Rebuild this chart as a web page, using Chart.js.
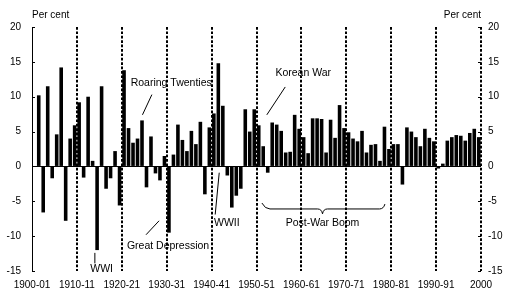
<!DOCTYPE html>
<html>
<head>
<meta charset="utf-8">
<script src="https://cdn.jsdelivr.net/npm/chart.js@4.4.1/dist/chart.umd.min.js"></script>
<style>
  html, body { margin: 0; padding: 0; background: #fff; }
</style>
</head>
<body>
<canvas id="growthChart" width="515" height="303"></canvas>
<script>
// financial years 1900-01 .. 1999-00
const firstYear = 1900;
const years = [];
for (let y = firstYear; y < firstYear + 100; y++) {
  years.push(y + '-' + String((y + 1) % 100).padStart(2, '0'));
}

// annual growth, per cent (no figure for 1900-01)
const growth = [
  null, 10.2, -6.6, 11.5, -1.7, 4.6, 14.2, -7.8, 4.0, 5.9,
  9.2, -1.6, 10.0, 0.8, -12.0, 11.5, -3.2, -1.7, 2.2, -5.6,
  13.8, 5.5, 3.4, 4.0, 6.6, -3.0, 4.3, -1.0, -2.0, 1.5,
  -9.5, 1.7, 6.0, 3.8, 2.2, 5.1, 3.2, 6.4, -4.0, 5.6,
  7.6, 14.8, 8.7, -1.3, -5.9, -4.2, -3.2, 8.2, 5.0, 8.2,
  5.9, 2.9, -0.9, 6.3, 6.0, 5.1, 2.0, 2.1, 7.4, 5.4,
  4.2, 1.9, 6.9, 6.9, 6.8, 2.0, 6.7, 4.1, 8.8, 5.5,
  4.9, 4.0, 3.6, 5.1, 2.0, 3.1, 3.2, 0.8, 5.7, 2.5,
  3.2, 3.2, -2.6, 5.6, 5.0, 4.2, 2.9, 5.4, 4.1, 3.6,
  -0.3, 0.4, 3.7, 4.2, 4.5, 4.4, 3.7, 4.8, 5.4, 4.2
];

const xTickLabels = ['1900-01', '1910-11', '1920-21', '1930-31', '1940-41',
  '1950-51', '1960-61', '1970-71', '1980-81', '1990-91', '2000'];

// text notes, in axis units (x = years from 1900, y = per cent)
const notes = [
  { text: 'Roaring Twenties', x: 31, y: 11.9, line: [26.7, 10.3, 24.6, 7.4] },
  { text: 'Great Depression', x: 30.3, y: -11.5, line: [28.3, -7.8, 25.4, -9.8] },
  { text: 'WWI', x: 15.5, y: -14.7, line: [14.0, -12.4, 14.0, -13.9] },
  { text: 'WWII', x: 43.4, y: -8.1, line: [41.7, -0.9, 40.8, -6.9] },
  { text: 'Korean War', x: 60.4, y: 13.4, line: [56.4, 11.4, 52.3, 7.4] },
  { text: 'Post-War Boom', x: 64.7, y: -8.2, line: null }
];

const FONT = '"Liberation Sans", Arial, sans-serif';
Chart.defaults.font.family = FONT;
Chart.defaults.font.size = 10;
Chart.defaults.color = '#000';

const overlay = {
  id: 'overlay',
  afterDatasetsDraw(chart) {
    const { ctx, chartArea: a, scales: { x, y } } = chart;
    ctx.save();

    // decade markers
    ctx.strokeStyle = '#000';
    ctx.lineWidth = 2;
    ctx.setLineDash([2.7, 1.7]);
    for (let k = 10; k <= 100; k += 10) {
      const px = Math.round(x.getPixelForValue(k));
      ctx.beginPath();
      ctx.moveTo(px, a.top);
      ctx.lineTo(px, a.bottom);
      ctx.stroke();
    }
    ctx.setLineDash([]);

    // small inward ticks on both value axes
    ctx.lineWidth = 1;
    for (let v = -15; v <= 20; v += 5) {
      const py = Math.round(y.getPixelForValue(v)) + 0.5;
      ctx.beginPath();
      ctx.moveTo(a.left, py); ctx.lineTo(a.left + 3, py);
      ctx.moveTo(a.right - 3, py); ctx.lineTo(a.right, py);
      ctx.stroke();
    }

    // notes
    ctx.font = '10.5px ' + FONT;
    ctx.fillStyle = '#000';
    ctx.textAlign = 'center';
    ctx.textBaseline = 'middle';
    notes.forEach(n => {
      ctx.fillText(n.text, x.getPixelForValue(n.x), y.getPixelForValue(n.y));
      if (n.line) {
        ctx.beginPath();
        ctx.moveTo(x.getPixelForValue(n.line[0]), y.getPixelForValue(n.line[1]));
        ctx.lineTo(x.getPixelForValue(n.line[2]), y.getPixelForValue(n.line[3]));
        ctx.stroke();
      }
    });

    // brace under the post-war years
    const P = (vx, vy) => [x.getPixelForValue(vx), y.getPixelForValue(vy)];
    ctx.beginPath();
    ctx.moveTo(...P(51.2, -5.25));
    ctx.quadraticCurveTo(...P(51.9, -6.1), ...P(53.0, -6.1));
    ctx.lineTo(...P(63.6, -6.1));
    ctx.quadraticCurveTo(...P(64.5, -6.1), ...P(64.7, -6.8));
    ctx.quadraticCurveTo(...P(64.9, -6.1), ...P(65.8, -6.1));
    ctx.lineTo(...P(77.4, -6.1));
    ctx.quadraticCurveTo(...P(78.3, -6.1), ...P(78.6, -5.4));
    ctx.stroke();

    // unit labels
    ctx.font = '10px ' + FONT;
    ctx.textAlign = 'left';
    ctx.fillText('Per cent', a.left, 15);
    ctx.textAlign = 'right';
    ctx.fillText('Per cent', a.right, 15);
    ctx.restore();
  }
};

const ctx = document.getElementById('growthChart').getContext('2d');
new Chart(ctx, {
  type: 'bar',
  data: {
    datasets: [{
      data: years.map((yr, i) => ({ x: i + 0.5, y: growth[i] })),
      backgroundColor: '#000',
      barPercentage: 0.8,
      categoryPercentage: 1
    }]
  },
  options: {
    responsive: false,
    animation: false,
    devicePixelRatio: 1,
    layout: { padding: { top: 27, left: 0, right: 0, bottom: 0 } },
    plugins: { legend: { display: false }, tooltip: { enabled: false } },
    scales: {
      x: {
        type: 'linear',
        offset: false,
        min: 0,
        max: 100,
        grid: { display: false, drawTicks: false, offset: false },
        border: { display: false },
        afterFit: s => { s.height = 32; },
        afterBuildTicks: s => { s.ticks = xTickLabels.map((t, i) => ({ value: i * 10 })); },
        ticks: {
          autoSkip: false,
          maxRotation: 0,
          padding: 8,
          callback: v => xTickLabels[Math.round(v / 10)]
        }
      },
      y: {
        position: 'left',
        min: -15,
        max: 20,
        afterFit: s => { s.width = 32; },
        grid: {
          drawTicks: false,
          color: c => (c.tick && c.tick.value === 0 ? '#000' : 'rgba(0,0,0,0)')
        },
        border: { display: true, color: '#000', width: 1 },
        ticks: { stepSize: 5, padding: 11 }
      },
      y2: {
        position: 'right',
        min: -15,
        max: 20,
        afterFit: s => { s.width = 34; },
        grid: { display: false, drawTicks: false },
        border: { display: false },
        ticks: { stepSize: 5, padding: 7 }
      }
    }
  },
  plugins: [overlay]
});
</script>
</body>
</html>
